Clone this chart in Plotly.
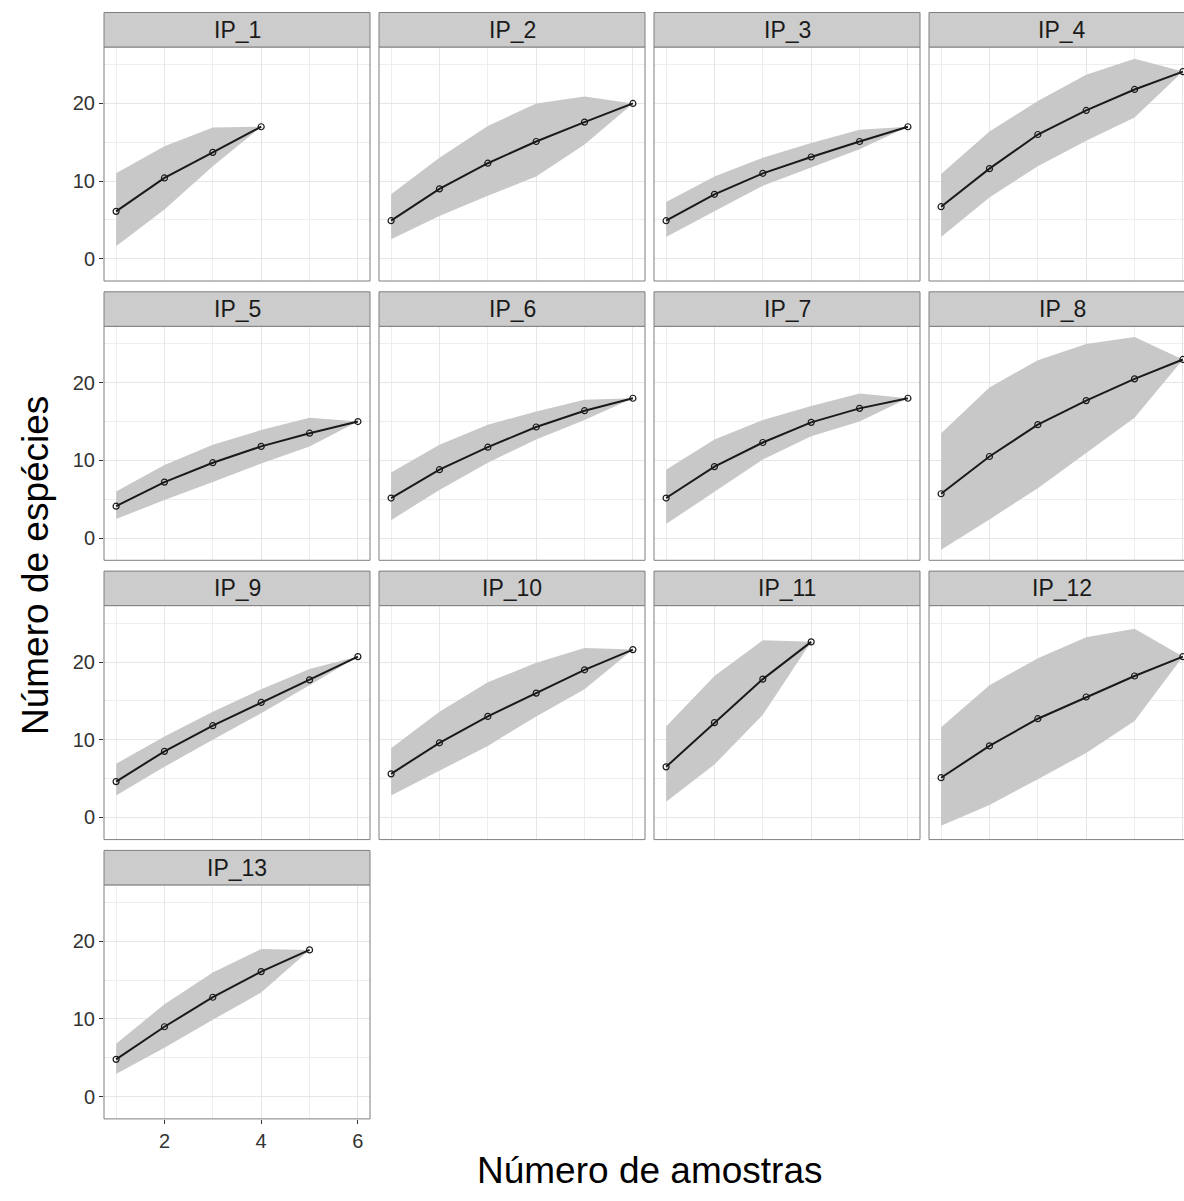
import plotly.graph_objects as go

# Curvas de acumulação de espécies por ponto (média e intervalo)
sites = ["IP_1", "IP_2", "IP_3", "IP_4", "IP_5", "IP_6", "IP_7",
         "IP_8", "IP_9", "IP_10", "IP_11", "IP_12", "IP_13"]

media = [
    [6.1, 10.4, 13.7, 17.0],
    [4.9, 9.0, 12.3, 15.1, 17.6, 20.0],
    [4.9, 8.3, 11.0, 13.1, 15.1, 17.0],
    [6.7, 11.6, 16.0, 19.1, 21.8, 24.1],
    [4.1, 7.2, 9.7, 11.8, 13.5, 15.0],
    [5.15, 8.8, 11.7, 14.3, 16.4, 18.0],
    [5.15, 9.2, 12.3, 14.9, 16.7, 18.0],
    [5.7, 10.5, 14.6, 17.7, 20.5, 23.0],
    [4.6, 8.5, 11.8, 14.8, 17.7, 20.7],
    [5.6, 9.6, 13.0, 16.0, 19.0, 21.6],
    [6.5, 12.2, 17.8, 22.6],
    [5.1, 9.2, 12.7, 15.5, 18.2, 20.7],
    [4.8, 9.0, 12.8, 16.1, 18.9],
]

limite_sup = [
    [11.0, 14.5, 16.9, 17.0],
    [8.3, 13.0, 17.1, 20.0, 20.9, 20.0],
    [7.3, 10.6, 13.0, 14.9, 16.6, 17.0],
    [10.9, 16.4, 20.3, 23.7, 25.75, 24.1],
    [6.0, 9.4, 12.0, 13.9, 15.5, 15.0],
    [8.45, 12.0, 14.6, 16.3, 17.8, 18.0],
    [8.8, 12.7, 15.2, 17.0, 18.6, 18.0],
    [13.5, 19.4, 22.9, 25.0, 25.9, 23.0],
    [6.9, 10.4, 13.6, 16.5, 19.1, 20.7],
    [8.9, 13.6, 17.4, 19.9, 21.8, 21.6],
    [11.7, 18.2, 22.8, 22.6],
    [11.6, 17.0, 20.5, 23.2, 24.3, 20.7],
    [6.8, 11.9, 16.0, 19.0, 18.9],
]

limite_inf = [
    [1.6, 6.35, 11.9, 17.0],
    [2.5, 5.5, 8.1, 10.6, 14.7, 20.0],
    [2.8, 6.1, 9.4, 11.7, 14.1, 17.0],
    [2.8, 7.9, 11.9, 15.2, 18.2, 24.1],
    [2.45, 4.9, 7.2, 9.6, 11.8, 15.0],
    [2.3, 6.2, 9.7, 12.7, 15.2, 18.0],
    [1.8, 6.0, 10.1, 13.1, 15.0, 18.0],
    [-1.5, 2.4, 6.4, 10.9, 15.5, 23.0],
    [2.8, 6.5, 10.0, 13.4, 17.0, 20.7],
    [2.8, 6.0, 9.2, 13.0, 16.5, 21.6],
    [2.0, 6.8, 13.2, 22.6],
    [-1.1, 1.6, 4.9, 8.3, 12.4, 20.7],
    [2.9, 6.3, 9.9, 13.4, 18.9],
]

y_ticks = [0, 10, 20]
y_minor = [5, 15, 25]
x_ticks = [2, 4, 6]
x_minor = [1, 3, 5]

# Dimensões da figura e da grade de painéis (pixels)
W, H = 1184, 1201
NCOL = 4
PANEL_W = 266
COL_X0 = [104, 379, 654, 929]
ROW_TOP0 = 12.5
ROW_STEP = 279.3
STRIP_H = 34.5
PANEL_H = 234.0
X_LO, X_HI = 0.75, 6.25
PX_PER_X = PANEL_W / (X_HI - X_LO)

ylo = min(min(v) for v in limite_inf)
yhi = max(max(v) for v in limite_sup)
pad = 0.05 * (yhi - ylo)
Y_RANGE = [ylo - pad, yhi + pad]

FONT = "Liberation Sans, Arial, sans-serif"
BAND = "#c8c8c8"
BORDER = "#7f7f7f"
GRID_MAJ = "#e6e6e6"
GRID_MIN = "#eeeeee"
TXT = "#333333"

fig = go.Figure()
shapes = []
annotations = []
layout_axes = {}

for i, site in enumerate(sites):
    r, c = divmod(i, NCOL)
    k = i + 1
    xa = "x" if k == 1 else f"x{k}"
    ya = "y" if k == 1 else f"y{k}"

    x0 = COL_X0[c]
    x1 = x0 + PANEL_W
    strip_top = ROW_TOP0 + r * ROW_STEP
    p_top = strip_top + STRIP_H
    p_bot = p_top + PANEL_H

    # the last column runs past the figure's right edge
    x1_vis = min(x1, W)
    x_hi_vis = X_LO + (x1_vis - x0) / PX_PER_X

    n = list(range(1, len(media[i]) + 1))

    fig.add_trace(go.Scatter(
        x=n + n[::-1],
        y=limite_sup[i] + limite_inf[i][::-1],
        fill="toself", fillcolor=BAND, mode="lines",
        line=dict(width=0, color=BAND), hoverinfo="skip",
        showlegend=False, xaxis=xa, yaxis=ya,
    ))
    fig.add_trace(go.Scatter(
        x=n, y=media[i], mode="lines+markers",
        line=dict(color="#1a1a1a", width=2),
        marker=dict(symbol="circle-open", size=6, color="#1a1a1a",
                    line=dict(width=1.2, color="#1a1a1a")),
        showlegend=False, xaxis=xa, yaxis=ya, cliponaxis=False,
    ))

    show_x = (r == 3 and c == 0)
    show_y = (c == 0)

    layout_axes["xaxis" if k == 1 else f"xaxis{k}"] = dict(
        domain=[x0 / W, x1_vis / W],
        range=[X_LO, x_hi_vis],
        anchor=ya,
        tickvals=x_ticks,
        showticklabels=show_x,
        ticks="outside" if show_x else "",
        ticklen=4, tickwidth=1, tickcolor=TXT,
        tickfont=dict(family=FONT, size=20, color=TXT),
        showgrid=True, gridcolor=GRID_MAJ, gridwidth=1,
        minor=dict(tickvals=x_minor, showgrid=True, gridcolor=GRID_MIN,
                   gridwidth=1, ticks=""),
        zeroline=False, showline=False, fixedrange=True,
    )
    layout_axes["yaxis" if k == 1 else f"yaxis{k}"] = dict(
        domain=[1 - p_bot / H, 1 - p_top / H],
        range=Y_RANGE,
        anchor=xa,
        tickvals=y_ticks,
        showticklabels=show_y,
        ticks="outside" if show_y else "",
        ticklen=4, tickwidth=1, tickcolor=TXT,
        tickfont=dict(family=FONT, size=20, color=TXT),
        showgrid=True, gridcolor=GRID_MAJ, gridwidth=1,
        minor=dict(tickvals=y_minor, showgrid=True, gridcolor=GRID_MIN,
                   gridwidth=1, ticks=""),
        zeroline=False, showline=False, fixedrange=True,
    )

    # panel border
    shapes.append(dict(
        type="rect", xref="paper", yref="paper", layer="above",
        x0=x0 / W, x1=x1 / W, y0=1 - p_bot / H, y1=1 - p_top / H,
        line=dict(color=BORDER, width=1), fillcolor="rgba(0,0,0,0)",
    ))
    # strip
    shapes.append(dict(
        type="rect", xref="paper", yref="paper", layer="above",
        x0=x0 / W, x1=x1 / W, y0=1 - p_top / H, y1=1 - strip_top / H,
        line=dict(color=BORDER, width=1), fillcolor="#cccccc",
    ))
    annotations.append(dict(
        text=site, xref="paper", yref="paper",
        x=(x0 + PANEL_W / 2) / W, y=1 - (strip_top + STRIP_H / 2) / H,
        xanchor="center", yanchor="middle", showarrow=False,
        font=dict(family=FONT, size=23, color="#1a1a1a"),
    ))

# axis titles
annotations.append(dict(
    text="Número de amostras", xref="paper", yref="paper",
    x=(COL_X0[0] + COL_X0[-1] + PANEL_W) / 2 / W, y=1 - 1170 / H,
    xanchor="center", yanchor="middle", showarrow=False,
    font=dict(family=FONT, size=37, color="#000000"),
))
annotations.append(dict(
    text="Número de espécies", xref="paper", yref="paper",
    x=35 / W, y=1 - 566 / H, textangle=-90,
    xanchor="center", yanchor="middle", showarrow=False,
    font=dict(family=FONT, size=37, color="#000000"),
))

fig.update_layout(
    width=W, height=H,
    margin=dict(l=0, r=0, t=0, b=0),
    paper_bgcolor="white", plot_bgcolor="white",
    shapes=shapes, annotations=annotations,
    showlegend=False,
    **layout_axes,
)

fig.write_html("out.html")
